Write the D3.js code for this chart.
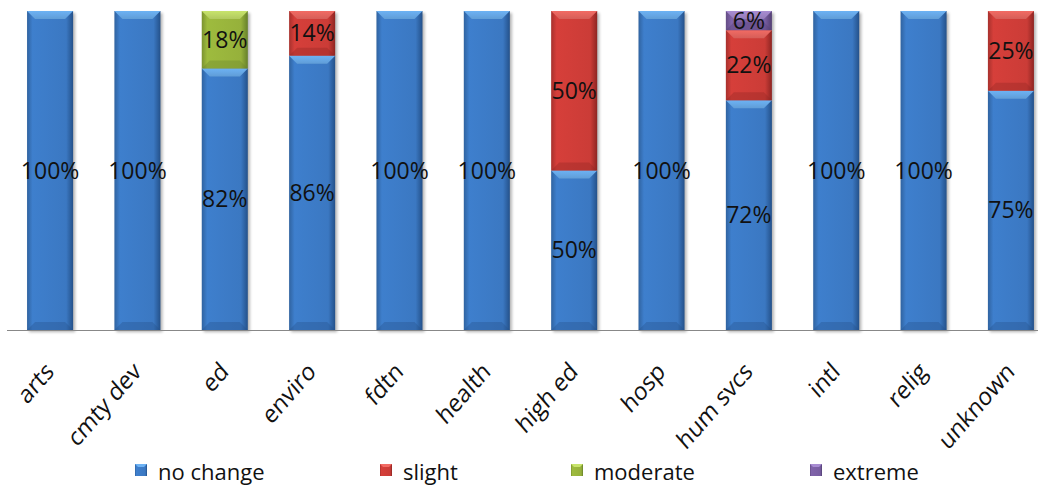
<!DOCTYPE html>
<html><head><meta charset="utf-8">
<script src="https://cdn.jsdelivr.net/npm/d3@7"></script>
<style>html,body{margin:0;padding:0;background:#fff;}svg{display:block;}</style>
</head><body>
<svg id="chart" width="1038" height="485"></svg>
<script>
const categories = ["arts","cmty dev","ed","enviro","fdtn","health","high ed","hosp","hum svcs","intl","relig","unknown"];
const seriesNames = ["no change","slight","moderate","extreme"];
const noChange = [100,100,82,86,100,100,50,100,72,100,100,75];
const slight   = [0,0,0,14,0,0,50,0,22,0,0,25];
const moderate = [0,0,18,0,0,0,0,0,0,0,0,0];
const extreme  = [0,0,0,0,0,0,0,0,6,0,0,0];

const palette = {
  "no change": {base:"#3E7FCD", light:"#6DB2F4", dark:"#24518A"},
  "slight":    {base:"#D63F3A", light:"#F26B64", dark:"#8E2522"},
  "moderate":  {base:"#9EBB3E", light:"#C8E46C", dark:"#66802A"},
  "extreme":   {base:"#8063AA", light:"#A88CD2", dark:"#523F73"}
};

const rows = categories.map((c,i)=>({cat:c,"no change":noChange[i],"slight":slight[i],"moderate":moderate[i],"extreme":extreme[i]}));
const stack = d3.stack().keys(seriesNames)(rows);

const svg = d3.select("#chart");
const x = d3.scaleBand().domain(categories).range([6.4, 1054.6]).paddingInner(0.473).paddingOuter(0.2365);
const y = d3.scaleLinear().domain([0,100]).range([330, 11]);

const defs = svg.append("defs");
seriesNames.forEach((s,k)=>{
  const p = palette[s];
  const g = defs.append("linearGradient").attr("id","g"+k).attr("x1","0").attr("x2","1").attr("y1","0").attr("y2","0");
  g.append("stop").attr("offset","0").attr("stop-color",d3.color(p.base).darker(0.7));
  g.append("stop").attr("offset","0.12").attr("stop-color",p.base);
  g.append("stop").attr("offset","0.85").attr("stop-color",d3.color(p.base).darker(0.15));
  g.append("stop").attr("offset","1").attr("stop-color",p.dark);
  const t = defs.append("linearGradient").attr("id","t"+k).attr("x1","0").attr("x2","0").attr("y1","0").attr("y2","1");
  t.append("stop").attr("offset","0").attr("stop-color",p.light);
  t.append("stop").attr("offset","1").attr("stop-color",d3.color(p.light).darker(0.35));
});
const f = defs.append("filter").attr("id","sh").attr("x","-20%").attr("y","-5%").attr("width","140%").attr("height","115%");
f.append("feGaussianBlur").attr("stdDeviation","1.5");

// shadows
svg.append("g").selectAll("rect").data(categories).join("rect")
  .attr("x", d=>x(d)+2).attr("y", y(100)+2).attr("width", x.bandwidth()).attr("height", y(0)-y(100))
  .attr("fill","#000").attr("opacity",0.3).attr("filter","url(#sh)");

const bev = 8;
stack.forEach((layer,k)=>{
  const g = svg.append("g");
  layer.forEach((d,i)=>{
    const v = d[1]-d[0];
    if (v<=0) return;
    const x0 = x(categories[i]), w = x.bandwidth();
    const yt = y(d[1]), yb = y(d[0]);
    g.append("rect").attr("x",x0).attr("y",yt).attr("width",w).attr("height",yb-yt).attr("fill",`url(#g${k})`);
    const b = Math.min(bev,(yb-yt)/2);
    g.append("path").attr("d",`M${x0},${yt}H${x0+w}L${x0+w-b},${yt+b}H${x0+b}Z`).attr("fill",`url(#t${k})`);
    g.append("path").attr("d",`M${x0},${yb}H${x0+w}L${x0+w-b},${yb-b}H${x0+b}Z`).attr("fill",palette[seriesNames[k]].dark).attr("opacity",0.35);
    g.append("text").attr("x",x0+w/2).attr("y",(yt+yb)/2).attr("dy","0.35em")
      .attr("text-anchor","middle").attr("font-family","'Open Sans', sans-serif").attr("font-size",23)
      .attr("fill","#111").text(Math.round(v)+"%");
  });
});

// axis line
svg.append("line").attr("x1",7).attr("x2",1038).attr("y1",330.5).attr("y2",330.5).attr("stroke","#888").attr("stroke-width",1.2);

// x labels
svg.append("g").selectAll("text").data(categories).join("text")
  .attr("transform", d=>`translate(${x(d)+x.bandwidth()/2+5},373) scale(0.96,1.1) rotate(-45)`)
  .attr("text-anchor","end").attr("font-family","'Open Sans', sans-serif").attr("font-size",23)
  .attr("fill","#111").text(d=>d);

// legend
const legX = [135,380,571,810];
const leg = svg.append("g");
seriesNames.forEach((s,k)=>{
  const p = palette[s];
  leg.append("rect").attr("x",legX[k]).attr("y",464).attr("width",12).attr("height",12).attr("fill",`url(#g${k})`);
  leg.append("path").attr("d",`M${legX[k]},464h12l-3,3h-6z`).attr("fill",p.light);
  leg.append("text").attr("x",legX[k]+23).attr("y",480).attr("font-family","'Open Sans', sans-serif")
    .attr("font-size",22).attr("fill","#111").text(s);
});
</script>
</body></html>
